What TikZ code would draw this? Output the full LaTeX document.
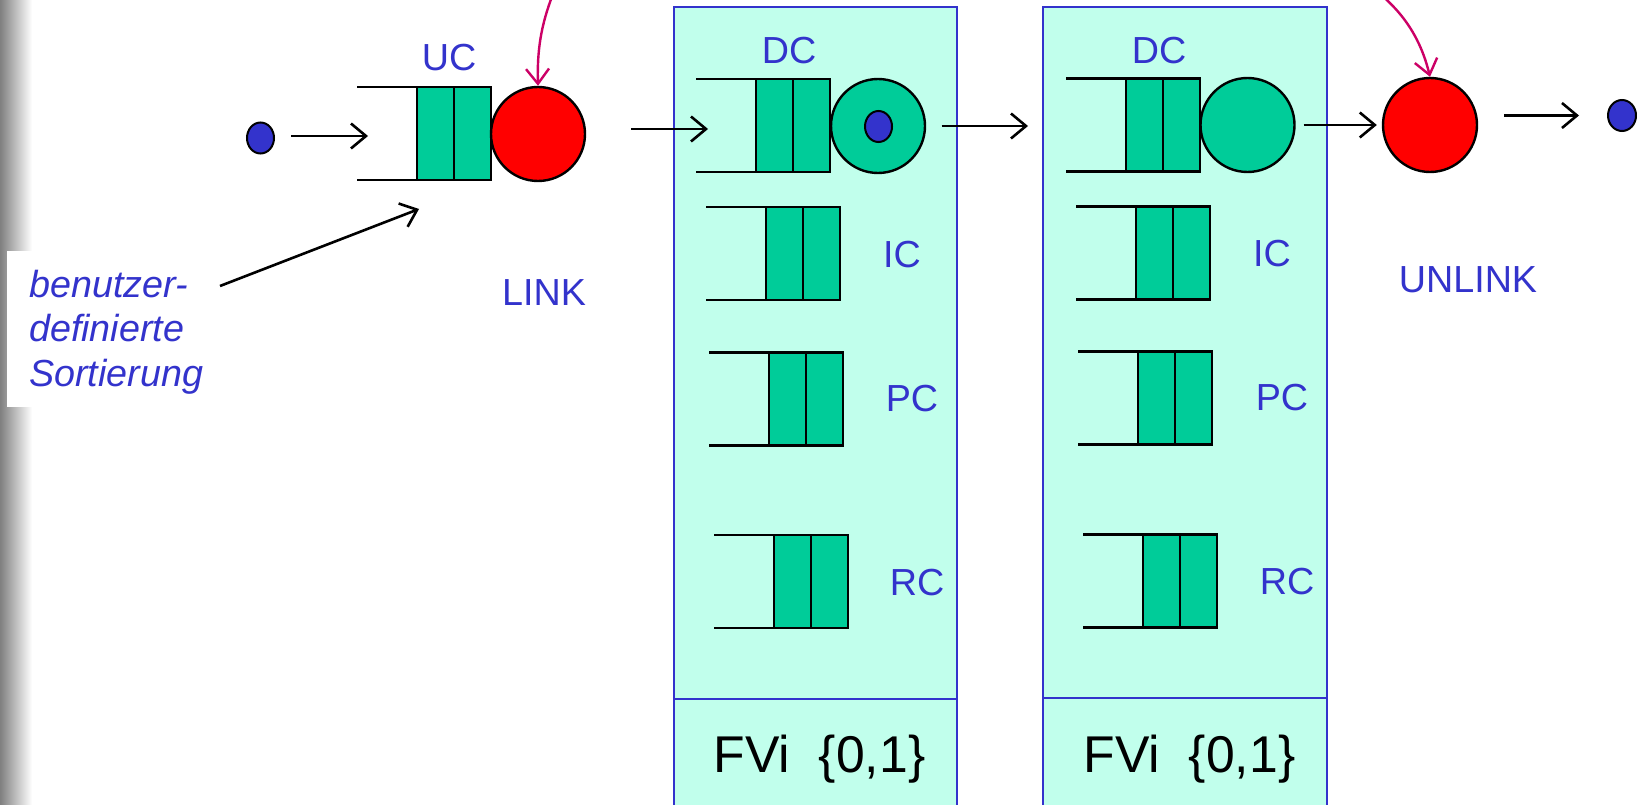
\documentclass[tikz,border=0pt]{standalone}
\usepackage{fontspec}
\setmainfont{Liberation Sans}
\usetikzlibrary{arrows.meta,shapes.geometric,calc}
\definecolor{txtblue}{RGB}{51,51,204}
\definecolor{qgreen}{RGB}{0,204,153}
\definecolor{boxfill}{RGB}{193,255,236}
\definecolor{magarr}{RGB}{204,0,102}
\definecolor{redc}{RGB}{255,0,0}
\tikzset{
  qrect/.style={draw=black, line width=2.6pt, fill=qgreen, minimum width=37pt, minimum height=93pt, inner sep=0pt, outer sep=0pt},
  qspan/.style={inner sep=0pt, outer sep=0pt, minimum height=93pt},
  qline/.style={draw=black, line width=2.2pt},
  lab/.style={text=txtblue, font=\fontsize{37.7}{44}\selectfont, inner sep=0pt},
  fvtext/.style={text=black, font=\fontsize{51.7}{60}\selectfont, inner sep=0pt},
  fvbox/.style={draw=txtblue, line width=2.2pt, fill=boxfill, inner sep=0pt, outer sep=0pt},
  arr/.style={draw=black, line width=2.6pt, -{Straight Barb[length=15pt,width=25pt]}},
  marr/.style={draw=magarr, line width=2.4pt, -{Straight Barb[length=15pt,width=23pt]}},
  server/.style={circle, draw=black, line width=2.4pt, minimum size=94pt, inner sep=0pt},
  job/.style={ellipse, draw=black, line width=2pt, fill=txtblue, minimum width=27pt, minimum height=31pt, inner sep=0pt},
}
\newcommand\myqueue[3]{%
  \node[qspan, minimum width=134pt] (#1) at (#2+7,#3) {};
  \draw[qline] (#1.north west) -- ++(62,0);
  \draw[qline] (#1.south west) -- ++(62,0);
  \node[qrect] (#1a) at (#2+18.5,#3) {};
  \node[qrect] (#1b) at (#2+55.5,#3) {};
}
\begin{document}
\begin{tikzpicture}[x=1pt,y=-1pt]
\useasboundingbox (0,0) rectangle (1637,805);
\fill[white] (0,0) rectangle (1637,805);
% slide background strip
\shade[left color=black!50, right color=white] (0,0) rectangle (32,805);
\fill[white] (7,251) rectangle (215,407);
% FV boxes
\node[fvbox, minimum width=283pt, minimum height=692pt] (box1) at (815.5,353) {};
\node[fvbox, minimum width=283pt, minimum height=121pt] (cell1) at (815.5,759.5) {};
\node[fvbox, minimum width=284pt, minimum height=691pt] (box2) at (1185,352.5) {};
\node[fvbox, minimum width=284pt, minimum height=122pt] (cell2) at (1185,759) {};
\node[fvtext, anchor=base] (fv1) at (819.5,772) {FVi~~\{0,1\}};
\node[fvtext, anchor=base] (fv2) at (1189.5,772) {FVi~~\{0,1\}};
% queues
\myqueue{ucq}{417}{133.5}
\myqueue{dcqA}{756}{125.5}
\myqueue{icqA}{766}{253.5}
\myqueue{pcqA}{769}{399}
\myqueue{rcqA}{774}{581.5}
\myqueue{dcqB}{1126}{125}
\myqueue{icqB}{1136}{253}
\myqueue{pcqB}{1138}{398}
\myqueue{rcqB}{1143}{581}
% servers and jobs
\node[server, fill=redc] (red1) at (538,134) {};
\node[server, fill=qgreen] (green1) at (878,126) {};
\node[job] (inner1) at (878.5,126.5) {};
\node[server, fill=qgreen] (green2) at (1247.5,125) {};
\node[server, fill=redc] (red2) at (1430,125) {};
\node[job] (dot1) at (260.5,138) {};
\node[job, minimum width=28pt] (dot2) at (1622,115.5) {};
% labels
\node[lab] (ucl) at (449,58) {UC};
\node[lab] (dcl1) at (789,51) {DC};
\node[lab] (dcl2) at (1159,51) {DC};
\node[lab] (icl1) at (902,255) {IC};
\node[lab] (icl2) at (1272,254) {IC};
\node[lab] (pcl1) at (912,399) {PC};
\node[lab] (pcl2) at (1282,398) {PC};
\node[lab] (rcl1) at (917,583) {RC};
\node[lab] (rcl2) at (1287,582) {RC};
\node[lab] (link) at (544,293) {LINK};
\node[lab] (unlink) at (1468,280) {UNLINK};
\node[lab, font=\itshape\fontsize{37.7}{44.5}\selectfont, align=left, anchor=base west] (sort) at (29,386) {benutzer-\\definierte\\Sortierung};
% arrows
\draw[arr, shorten <=16pt, shorten >=-11pt] ($(dot1.east)+(0,-2)$) -- ($(dot1.east -| ucq.west)+(0,-2)$);
\draw[arr, shorten <=45pt, shorten >=-12pt] ($(dcqA.west -| red1.east)+(0,3.5)$) -- ($(dcqA.west)+(0,3.5)$);
\draw[arr, shorten <=15.5pt, shorten >=38pt] (green1.east) -- (green1.east -| dcqB.west);
\draw[arr, shorten <=8pt, shorten >=5pt] (green2) -- (red2);
\draw[arr, shorten <=26pt, shorten >=28pt] (dot2.west -| red2.east) -- (dot2.west);
\coordinate (sortend) at (220,286);
\draw[arr] (sortend) -- ([xshift=2pt,yshift=-29pt]ucqa.south west);
\coordinate (m1s) at (553,-6);
\draw[marr] (m1s) .. controls (541,25) and (537,50) .. (red1.north);
\coordinate (m2s) at (1380,-6);
\draw[marr] (m2s) .. controls (1405,15) and (1421,40) .. (red2.north);
\end{tikzpicture}
\end{document}
